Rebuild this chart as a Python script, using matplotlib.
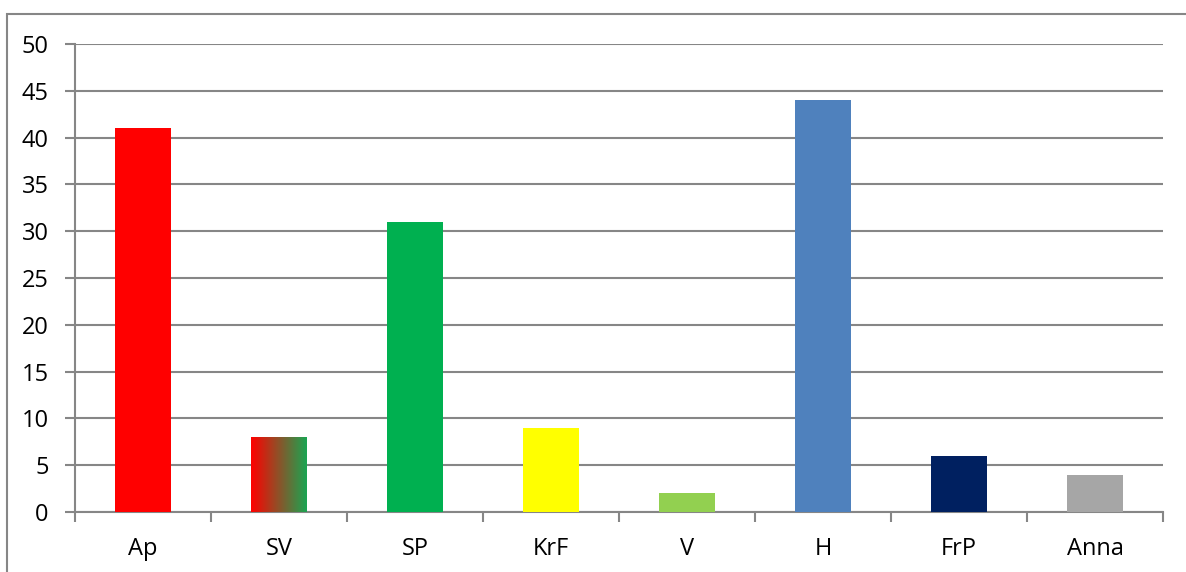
import matplotlib
matplotlib.use("Agg")
import matplotlib.pyplot as plt
from matplotlib.patches import Rectangle
from matplotlib.colors import LinearSegmentedColormap
import numpy as np

partier = ["Ap", "SV", "SP", "KrF", "V", "H", "FrP", "Anna"]
verdier = [41, 8, 31, 9, 2, 44, 6, 4]
farger = ["#FF0000", "#FF0000", "#00B050", "#FFFF00", "#92D050", "#4F81BD", "#002060", "#A6A6A6"]

plt.rcParams['font.family'] = ['Open Sans', 'DejaVu Sans']
grå = "#868686"

fig = plt.figure(figsize=(11.86, 5.72), dpi=100)
ax = fig.add_axes([75/1186, 1 - 512/572, (1163-75)/1186, (512-44)/572])

x = np.arange(len(partier))
stolper = ax.bar(x, verdier, width=0.405, color=farger, zorder=3)

# SV: gradient fra rødt til grønt
sv = stolper[1]
grad = LinearSegmentedColormap.from_list("sv", ["#FF0000", "#1AA552"])
x0 = sv.get_x()
ax.imshow(np.linspace(0, 1, 256).reshape(1, -1), cmap=grad, aspect="auto",
          extent=(x0, x0 + sv.get_width(), 0, sv.get_height()),
          clip_path=sv, zorder=4)

ax.set_xlim(-0.5, len(partier) - 0.5)
ax.set_ylim(0, 50)
ax.set_yticks(range(0, 51, 5))
ax.set_xticks(x)
ax.set_xticklabels(partier)
ax.set_xticks(np.arange(-0.5, len(partier), 1), minor=True)

ax.grid(True, axis="y", color=grå, linewidth=1.5, zorder=0)
ax.set_axisbelow(True)
for s in ["top", "right"]:
    ax.spines[s].set_visible(False)
for s in ["left", "bottom"]:
    ax.spines[s].set_color(grå)
    ax.spines[s].set_linewidth(1.5)

ax.tick_params(axis="y", length=7, width=1.5, color=grå, labelsize=17, pad=12)
ax.tick_params(axis="x", which="major", length=0, labelsize=17, pad=18)
ax.tick_params(axis="x", which="minor", length=7, width=1.5, color=grå)

# ramme rundt diagrammet
fig.patches.append(Rectangle((7/1186, -0.1), 1.2, 1 - 14/572 + 0.1,
                             transform=fig.transFigure, fill=False,
                             edgecolor=grå, linewidth=1.5))

fig.savefig("out.png", dpi=100)
